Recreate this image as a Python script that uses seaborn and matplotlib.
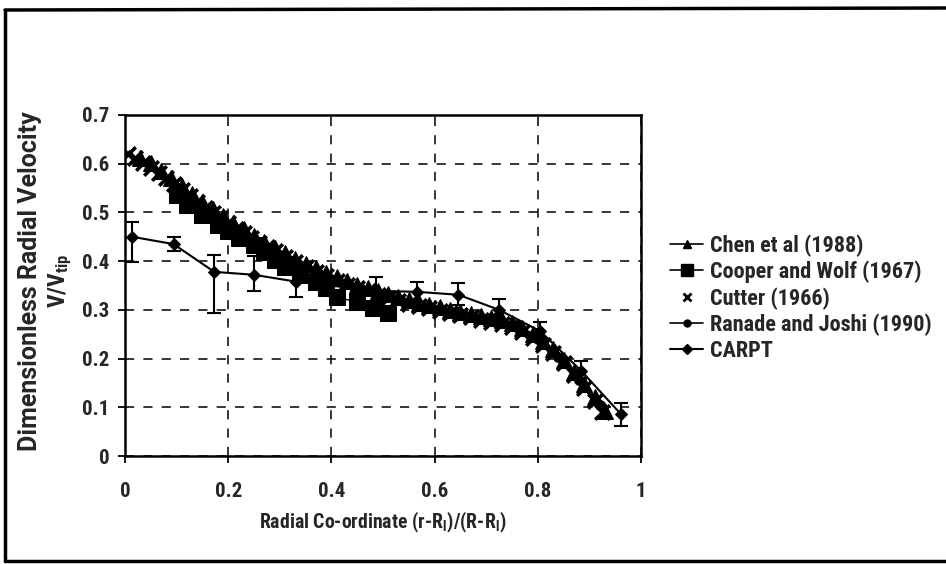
import matplotlib
matplotlib.use("Agg")
import matplotlib.pyplot as plt
import matplotlib.font_manager as fm
from matplotlib.lines import Line2D
import seaborn as sns
import pandas as pd
import numpy as np

# ---------------- data ----------------
chen_x = [0.03, 0.05, 0.07, 0.09, 0.11, 0.13, 0.15, 0.17, 0.19, 0.21, 0.23, 0.25, 0.27, 0.29,
          0.31, 0.33, 0.35, 0.37, 0.39, 0.41, 0.43, 0.45, 0.47, 0.49, 0.51, 0.53, 0.55, 0.57,
          0.59, 0.61, 0.63, 0.65, 0.67, 0.69, 0.71, 0.73, 0.75, 0.77, 0.79, 0.81, 0.83, 0.85,
          0.87, 0.89, 0.91, 0.93]
chen_y = [0.612, 0.602, 0.586, 0.570, 0.554, 0.537, 0.522, 0.507, 0.492, 0.478, 0.465, 0.452,
          0.440, 0.428, 0.416, 0.405, 0.395, 0.385, 0.376, 0.367, 0.359, 0.352, 0.345, 0.339,
          0.333, 0.326, 0.320, 0.315, 0.310, 0.305, 0.300, 0.296, 0.292, 0.288, 0.284, 0.279,
          0.273, 0.263, 0.251, 0.237, 0.219, 0.197, 0.173, 0.148, 0.121, 0.093]

cooper_x = [0.10, 0.12, 0.15, 0.18, 0.20, 0.22, 0.25, 0.27, 0.29, 0.31, 0.34, 0.37, 0.39,
            0.41, 0.45, 0.48, 0.51]
cooper_y = [0.535, 0.515, 0.495, 0.475, 0.462, 0.448, 0.433, 0.418, 0.402, 0.389, 0.372,
            0.358, 0.344, 0.326, 0.316, 0.303, 0.293]

cutter_x = [0.005, 0.02, 0.035, 0.05, 0.065, 0.08, 0.095, 0.11, 0.125, 0.14, 0.155, 0.17,
            0.185, 0.20, 0.215, 0.23, 0.245, 0.26, 0.275, 0.29, 0.31, 0.33, 0.35, 0.37, 0.39,
            0.41, 0.43, 0.45, 0.47, 0.49, 0.51, 0.53, 0.55, 0.57, 0.59, 0.61, 0.63, 0.65,
            0.67, 0.69, 0.71, 0.73, 0.75, 0.77, 0.79, 0.81, 0.83, 0.85, 0.87, 0.89, 0.91, 0.925]
cutter_y = [0.620, 0.612, 0.602, 0.592, 0.580, 0.570, 0.558, 0.546, 0.534, 0.522, 0.510,
            0.499, 0.488, 0.478, 0.467, 0.457, 0.447, 0.438, 0.429, 0.420, 0.409, 0.398,
            0.388, 0.378, 0.369, 0.360, 0.352, 0.344, 0.338, 0.331, 0.325, 0.319, 0.313,
            0.308, 0.303, 0.298, 0.293, 0.289, 0.285, 0.280, 0.276, 0.271, 0.265, 0.255,
            0.242, 0.228, 0.211, 0.190, 0.166, 0.140, 0.112, 0.090]

ranade_x = [0.72, 0.76, 0.80, 0.84, 0.88, 0.92]
ranade_y = [0.285, 0.268, 0.240, 0.203, 0.156, 0.105]

carpt_x = [0.014, 0.094, 0.173, 0.250, 0.331, 0.487, 0.566, 0.646, 0.725, 0.805, 0.884, 0.961]
carpt_y = [0.450, 0.435, 0.378, 0.372, 0.358, 0.339, 0.337, 0.331, 0.300, 0.256, 0.175, 0.086]
carpt_lo = [0.398, 0.420, 0.293, 0.339, 0.327, 0.310, 0.310, 0.310, 0.280, 0.240, 0.160, 0.062]
carpt_hi = [0.480, 0.450, 0.413, 0.410, 0.390, 0.368, 0.358, 0.355, 0.322, 0.276, 0.195, 0.108]

labels = ["Chen et al (1988)", "Cooper and Wolf (1967)", "Cutter (1966)",
          "Ranade and Joshi (1990)", "CARPT"]
x_ticks = [0, 0.2, 0.4, 0.6, 0.8, 1]
x_ticklabels = ["0", "0.2", "0.4", "0.6", "0.8", "1"]
y_ticks = [0, 0.1, 0.2, 0.3, 0.4, 0.5, 0.6, 0.7]
y_ticklabels = ["0", "0.1", "0.2", "0.3", "0.4", "0.5", "0.6", "0.7"]

# ---------------- style ----------------
sns.set_theme(style="white")
names = {f.name for f in fm.fontManager.ttflist}
narrow = "Liberation Sans"
for cand in ["Liberation Sans Narrow", "Roboto Condensed", "Open Sans Condensed",
             "Arial Narrow", "Liberation Sans"]:
    if cand in names:
        narrow = cand
        break
wide = "DejaVu Sans"
for cand in ["Roboto", "Open Sans", "Lato", "Noto Sans", "Liberation Sans"]:
    if cand in names:
        wide = cand
        break
plt.rcParams["font.family"] = [narrow, "DejaVu Sans"]
plt.rcParams["mathtext.fontset"] = "custom"
plt.rcParams["mathtext.rm"] = narrow + ":bold"
plt.rcParams["mathtext.bf"] = narrow + ":bold"
plt.rcParams["mathtext.it"] = narrow + ":bold"

fig = plt.figure(figsize=(9.46, 5.64), dpi=100)
ax = fig.add_axes([125 / 946, 1 - 456 / 564, (641 - 125) / 946, (456 - 115) / 564])

df_chen = pd.DataFrame({"x": chen_x, "y": chen_y})
df_cooper = pd.DataFrame({"x": cooper_x, "y": cooper_y})
df_cutter = pd.DataFrame({"x": cutter_x, "y": cutter_y})
df_ranade = pd.DataFrame({"x": ranade_x, "y": ranade_y})
df_carpt = pd.DataFrame({"x": carpt_x, "y": carpt_y})

sns.lineplot(data=df_chen, x="x", y="y", ax=ax, color="black", lw=1.2, marker="^",
             markersize=11, markeredgecolor="black", sort=False, estimator=None)
sns.lineplot(data=df_cooper, x="x", y="y", ax=ax, color="black", lw=1.0, marker="s",
             markersize=12, markeredgecolor="black", sort=False, estimator=None)
sns.scatterplot(data=df_cutter, x="x", y="y", ax=ax, color="black", marker="x", s=110,
                linewidth=2.6)
sns.lineplot(data=df_ranade, x="x", y="y", ax=ax, color="black", lw=1.2, marker="o",
             markersize=7, markeredgecolor="black", sort=False, estimator=None)
sns.lineplot(data=df_carpt, x="x", y="y", ax=ax, color="black", lw=1.5, marker="D",
             markersize=6, markeredgecolor="black", sort=False, estimator=None)
yerr = [np.array(carpt_y) - np.array(carpt_lo), np.array(carpt_hi) - np.array(carpt_y)]
ax.errorbar(carpt_x, carpt_y, yerr=yerr, fmt="none", ecolor="black", elinewidth=1.5,
            capsize=5, capthick=1.5)

ax.set_xlim(0, 1)
ax.set_ylim(0, 0.7)
ax.set_xticks(x_ticks)
ax.set_xticklabels(x_ticklabels)
ax.set_yticks(y_ticks)
ax.set_yticklabels(y_ticklabels)
ax.grid(True, color="black", linestyle=(0, (6, 6)), linewidth=1.1)
ax.set_axisbelow(True)
for s in ax.spines.values():
    s.set_color("black")
    s.set_linewidth(1.8)
ax.tick_params(axis="both", which="major", direction="out", length=5, width=1.3,
               color="black", labelsize=15, bottom=True, left=True)
ax.tick_params(axis="x", pad=14)
ax.tick_params(axis="y", pad=6)
for t in ax.get_xticklabels() + ax.get_yticklabels():
    t.set_fontweight("bold")

ax.set_xlabel(r"Radial Co-ordinate (r-R$_\mathrm{l}$)/(R-R$_\mathrm{l}$)", fontsize=14.2,
              fontweight="bold", labelpad=6)
ax.set_ylabel("")
# two-line y label: plain bold text line + line with subscript
fig.text(30 / 946, 1 - 281 / 564, "Dimensionless Radial Velocity", rotation=90,
         ha="center", va="center", fontsize=18, fontweight="bold",
         family=[wide, "DejaVu Sans"])
fig.text(60 / 946, 1 - 281 / 564, r"V/V$_\mathrm{tip}$", rotation=90,
         ha="center", va="center", fontsize=17, fontweight="bold")

handles = [
    Line2D([], [], color="black", lw=1.2, marker="^", markersize=6),
    Line2D([], [], color="black", lw=1.2, marker="s", markersize=9),
    Line2D([], [], color="black", lw=0, marker="x", markersize=6, markeredgewidth=2),
    Line2D([], [], color="black", lw=1.2, marker="o", markersize=5),
    Line2D([], [], color="black", lw=1.5, marker="D", markersize=5),
]
fig.legend(handles, labels, loc="center left", bbox_to_anchor=(670 / 946, 1 - 298 / 564),
           frameon=False, prop={"family": narrow, "weight": "bold", "size": 16},
           handlelength=1.5, handletextpad=0.3, labelspacing=0.17, borderpad=0,
           borderaxespad=0)

# outer frame of the figure
for xs, ys in [([5 / 946, 5 / 946], [1 - 10 / 564, 1 - 561 / 564]),
               ([5 / 946, 1.0], [1 - 10 / 564, 1 - 8 / 564]),
               ([5 / 946, 1.0], [1 - 561 / 564, 1 - 561 / 564])]:
    fig.add_artist(Line2D(xs, ys, color="black", lw=2.5, transform=fig.transFigure))

fig.savefig("out.png", dpi=100)
